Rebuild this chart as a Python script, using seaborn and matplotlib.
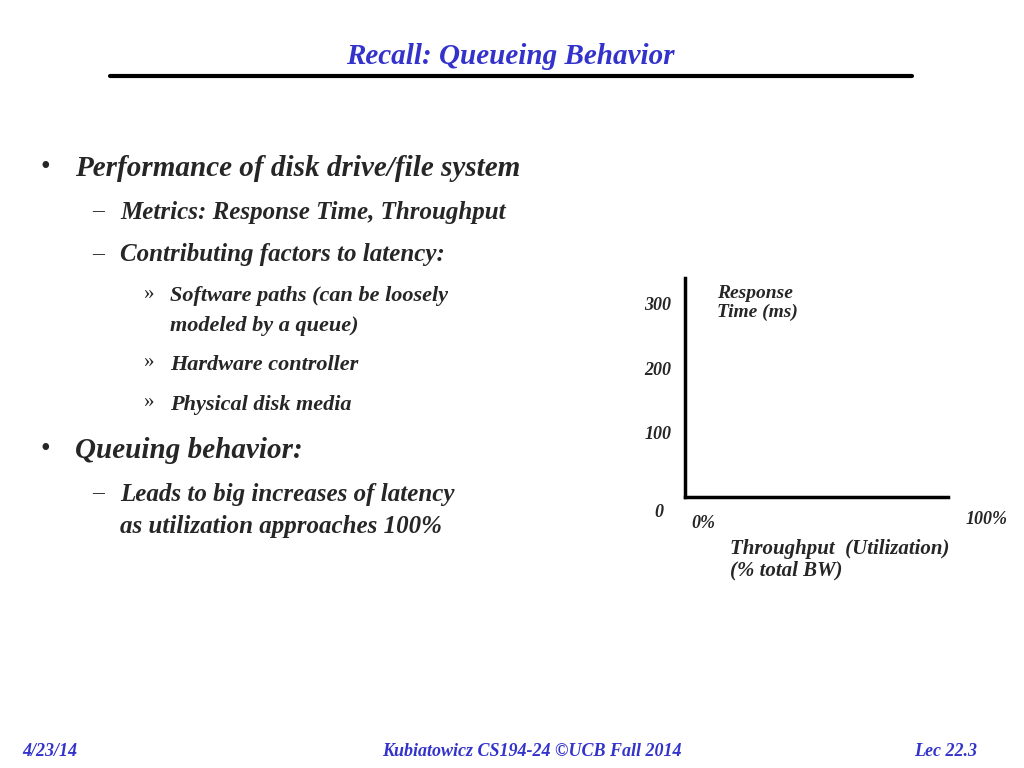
import matplotlib
matplotlib.use("Agg")
import matplotlib.pyplot as plt
import seaborn as sns

sns.set_style("white")
plt.rcParams['font.family'] = ['Liberation Serif', 'DejaVu Serif']

y_ticks = [0, 100, 200, 300]
x_labels = ["0%", "100%"]
x_pos = [0, 100]

fig = plt.figure(figsize=(10.24, 7.68), dpi=100)
F = dict(style='italic', weight='bold', transform=fig.transFigure)

def px(x, y):
    return x / 1024, 1 - y / 768

fig.text(*px(510, 57), "Recall: Queueing Behavior", ha='center', va='center', fontsize=21, color='#3333cc', **F)
fig.add_artist(plt.Line2D([110/1024, 912/1024], [1-76/768]*2, color='black', lw=3, transform=fig.transFigure))

lines = [
    (40, 168, "•", 20, 'normal'),
    (75, 168, "Performance of disk drive/file system", 21, 'italic'),
    (92, 212, "–", 17, 'normal'),
    (120, 212, "Metrics: Response Time, Throughput", 18, 'italic'),
    (92, 255, "–", 17, 'normal'),
    (120, 255, "Contributing factors to latency:", 18, 'italic'),
    (143, 294, "»", 15, 'normal'),
    (170, 296, "Software paths (can be loosely", 16, 'italic'),
    (170, 326, "modeled by a queue)", 16, 'italic'),
    (143, 363, "»", 15, 'normal'),
    (170, 365, "Hardware controller", 16, 'italic'),
    (143, 402, "»", 15, 'normal'),
    (170, 405, "Physical disk media", 16, 'italic'),
    (40, 450, "•", 20, 'normal'),
    (75, 450, "Queuing behavior:", 21, 'italic'),
    (92, 494, "–", 17, 'normal'),
    (120, 494, "Leads to big increases of latency", 18, 'italic'),
    (120, 527, "as utilization approaches 100%", 18, 'italic'),
]
for x, y, s, fs, st in lines:
    fig.text(*px(x, y), s, ha='left', va='center', fontsize=fs, style=st, weight='bold' if st == 'italic' else 'normal', transform=fig.transFigure)

ax = fig.add_axes([685/1024, 1-497/768, 263/1024, 219/768])
ax.set_xlim(0, 100)
ax.set_ylim(0, 340)
sns.despine(ax=ax)
for s in ['left', 'bottom']:
    ax.spines[s].set_linewidth(2.5)
    ax.spines[s].set_color('black')
ax.set_xticks([])
ax.set_yticks(y_ticks[1:])
ax.set_yticklabels([str(v) for v in y_ticks[1:]], fontsize=13, style='italic', weight='bold')
ax.tick_params(axis='y', length=0, pad=10)
ax.annotate(str(y_ticks[0]), (0, y_ticks[0]), xytext=(-19, -11), textcoords='offset points', ha='center', va='center',
            fontsize=13, style='italic', weight='bold', annotation_clip=False)
for lab, xv, dx, dy in zip(x_labels, x_pos, [13, 28], [-19, -16]):
    ax.annotate(lab, (xv, 0), xytext=(dx, dy), textcoords='offset points', ha='center', va='center',
                fontsize=13, style='italic', weight='bold', annotation_clip=False)
ax.text(0.12, 0.97, "Response\nTime (ms)", transform=ax.transAxes, ha='left', va='top', fontsize=14, style='italic', weight='bold', linespacing=1.15)
fig.text(*px(730, 560), "Throughput  (Utilization)\n(% total BW)", ha='left', va='center', fontsize=15, linespacing=1.1, **F)

fig.text(*px(22, 752), "4/23/14", ha='left', va='center', fontsize=13, color='#3333cc', **F)
fig.text(*px(532, 752), "Kubiatowicz CS194-24 ©UCB Fall 2014", ha='center', va='center', fontsize=13, color='#3333cc', **F)
fig.text(*px(977, 752), "Lec 22.3", ha='right', va='center', fontsize=13, color='#3333cc', **F)

fig.savefig("out.png", dpi=100)
